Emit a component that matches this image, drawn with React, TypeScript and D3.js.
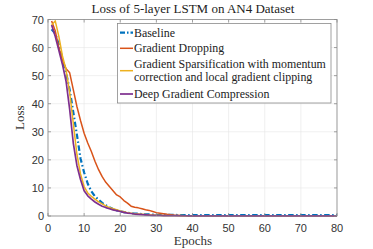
import React from "react";
import * as d3 from "d3";

const epochs: number[] = Array.from({ length: 80 }, (_, i) => i + 1);

const baseline: number[] = [
  66.5, 65, 61, 56, 51, 45, 37, 29, 20.5, 15.5,
  11.5, 8.8, 7.0, 5.8, 4.7, 3.8, 3.1, 2.5, 2.0, 1.7,
  1.4, 1.2, 1.0, 0.9, 0.8, 0.7, 0.6, 0.55, 0.5, 0.45,
  0.42, 0.4, 0.4, 0.38, 0.37, 0.36, 0.35, 0.35, 0.34, 0.34,
  0.33, 0.33, 0.33, 0.32, 0.32, 0.32, 0.32, 0.31, 0.31, 0.31,
  0.31, 0.3, 0.3, 0.3, 0.3, 0.3, 0.3, 0.3, 0.3, 0.3,
  0.3, 0.3, 0.3, 0.3, 0.3, 0.3, 0.3, 0.3, 0.3, 0.3,
  0.3, 0.3, 0.3, 0.3, 0.3, 0.3, 0.3, 0.3, 0.3, 0.3,
];

const gradientDropping: number[] = [
  69.5, 66, 60, 55.5, 52.5, 51, 45, 39, 34, 29.5,
  26, 23, 19.5, 16.5, 14, 12, 10.5, 9, 7.5, 6.8,
  5.5, 4.6, 3.5, 3.1, 2.9, 2.6, 2.2, 2.0, 1.6, 1.2,
  1.0, 0.8, 0.6, 0.45, 0.3, 0.2, 0.12, 0.08, 0.06, 0.05,
  0.05, 0.05, 0.05, 0.05, 0.05, 0.05, 0.05, 0.05, 0.05, 0.05,
  0.05, 0.05, 0.05, 0.05, 0.05, 0.05, 0.05, 0.05, 0.05, 0.05,
  0.05, 0.05, 0.05, 0.05, 0.05, 0.05, 0.05, 0.05, 0.05, 0.05,
  0.05, 0.05, 0.05, 0.05, 0.05, 0.05, 0.05, 0.05, 0.05, 0.05,
];

const gradientSparsification: number[] = [
  68, 69.5, 64, 57, 52, 44, 33, 22, 15, 10.5,
  8.2, 7.0, 6.0, 5.0, 4.3, 3.6, 3.0, 2.6, 2.2, 1.8,
  1.5, 1.2, 1.0, 0.8, 0.7, 0.6, 0.5, 0.4, 0.35, 0.3,
  0.25, 0.22, 0.2, 0.18, 0.16, 0.15, 0.14, 0.13, 0.12, 0.12,
  0.11, 0.11, 0.1, 0.1, 0.1, 0.1, 0.1, 0.1, 0.1, 0.1,
  0.1, 0.1, 0.1, 0.1, 0.1, 0.1, 0.1, 0.1, 0.1, 0.1,
  0.1, 0.1, 0.1, 0.1, 0.1, 0.1, 0.1, 0.1, 0.1, 0.1,
  0.1, 0.1, 0.1, 0.1, 0.1, 0.1, 0.1, 0.1, 0.1, 0.1,
];

const deepGradientCompression: number[] = [
  68, 64, 59, 54, 48, 38, 26, 18, 13, 9,
  7.2, 6.0, 5.0, 4.2, 3.5, 3.0, 2.6, 2.2, 1.9, 1.6,
  1.3, 1.0, 0.9, 0.7, 0.6, 0.5, 0.4, 0.3, 0.25, 0.2,
  0.18, 0.16, 0.14, 0.12, 0.1, 0.1, 0.09, 0.08, 0.08, 0.07,
  0.07, 0.07, 0.06, 0.06, 0.06, 0.06, 0.06, 0.06, 0.06, 0.06,
  0.06, 0.06, 0.06, 0.06, 0.06, 0.06, 0.06, 0.06, 0.06, 0.06,
  0.06, 0.06, 0.06, 0.06, 0.06, 0.06, 0.06, 0.06, 0.06, 0.06,
  0.06, 0.06, 0.06, 0.06, 0.06, 0.06, 0.06, 0.06, 0.06, 0.06,
];

const xTicks: number[] = [0, 10, 20, 30, 40, 50, 60, 70, 80];
const yTicks: number[] = [0, 10, 20, 30, 40, 50, 60, 70];

const seriesNames: string[][] = [
  ["Baseline"],
  ["Gradient Dropping"],
  ["Gradient Sparsification with momentum", "correction and local gradient clipping"],
  ["Deep Gradient Compression"],
];
const seriesColors: string[] = ["#0072BD", "#D95319", "#EDB120", "#7E2F8E"];
const seriesData: number[][] = [baseline, gradientDropping, gradientSparsification, deepGradientCompression];

const W = 373;
const H = 249;
const M = { left: 48, right: 337, top: 19.5, bottom: 216 };

export default function App() {
  const x = d3.scaleLinear().domain([0, 80]).range([M.left, M.right]);
  const y = d3.scaleLinear().domain([0, 70]).range([M.bottom, M.top]);
  const line = d3
    .line<number>()
    .x((_, i) => x(epochs[i]))
    .y((d) => y(d));

  const serif = "'Liberation Serif', 'Times New Roman', serif";
  const sans = "'Liberation Sans', Arial, sans-serif";
  const axisColor = "#333";

  const widths = [2.2, 1.5, 1.5, 1.7];
  const dashes = ["5.5,2.5,1.5,2.5", undefined, undefined, undefined];

  const lg = { x0: 117.5, y0: 23.5, x1: 331, y1: 103 };
  const legendRows = [32.7, 48.3, 70.7, 94];
  const legendTextRows = [[32.7], [48.3], [64, 77.3], [94]];

  return (
    <svg width={W} height={H} style={{ position: "absolute", left: 0, top: 0, background: "#fff" }}>
      <rect x={0} y={0} width={W} height={H} fill="#fff" />
      {xTicks.map((t) => (
        <line key={"gx" + t} x1={x(t)} x2={x(t)} y1={M.top} y2={M.bottom} stroke="#e6e6e6" strokeWidth={0.6} />
      ))}
      {yTicks.map((t) => (
        <line key={"gy" + t} x1={M.left} x2={M.right} y1={y(t)} y2={y(t)} stroke="#e6e6e6" strokeWidth={0.6} />
      ))}
      {seriesData.map((d, i) => (
        <path
          key={"s" + i}
          d={line(d) || ""}
          fill="none"
          stroke={seriesColors[i]}
          strokeWidth={widths[i]}
          strokeDasharray={dashes[i]}
          strokeLinejoin="round"
        />
      ))}
      <rect
        x={M.left}
        y={M.top}
        width={M.right - M.left}
        height={M.bottom - M.top}
        fill="none"
        stroke="#8a8a8a"
        strokeWidth={0.8}
      />
      {xTicks.map((t) => (
        <g key={"tx" + t}>
          <line x1={x(t)} x2={x(t)} y1={M.bottom} y2={M.bottom - 3} stroke="#8a8a8a" strokeWidth={0.8} />
          <line x1={x(t)} x2={x(t)} y1={M.top} y2={M.top + 3} stroke="#8a8a8a" strokeWidth={0.8} />
          <text x={x(t)} y={M.bottom + 16} textAnchor="middle" fontFamily={sans} fontSize={11} fill={axisColor}>
            {t}
          </text>
        </g>
      ))}
      {yTicks.map((t) => (
        <g key={"ty" + t}>
          <line x1={M.left} x2={M.left + 3} y1={y(t)} y2={y(t)} stroke="#8a8a8a" strokeWidth={0.8} />
          <line x1={M.right} x2={M.right - 3} y1={y(t)} y2={y(t)} stroke="#8a8a8a" strokeWidth={0.8} />
          <text x={M.left - 4} y={y(t) + 4} textAnchor="end" fontFamily={sans} fontSize={11} fill={axisColor}>
            {t}
          </text>
        </g>
      ))}
      <text x={193} y={13} textAnchor="middle" fontFamily={serif} fontSize={13} fill="#222">
        Loss of 5-layer LSTM on AN4 Dataset
      </text>
      <text x={193} y={245} textAnchor="middle" fontFamily={serif} fontSize={13} fill="#333">
        Epochs
      </text>
      <text
        transform={`translate(24,${(M.top + M.bottom) / 2}) rotate(-90)`}
        textAnchor="middle"
        fontFamily={serif}
        fontSize={13}
        fill="#333"
      >
        Loss
      </text>
      <rect x={lg.x0} y={lg.y0} width={lg.x1 - lg.x0} height={lg.y1 - lg.y0} fill="#fff" stroke="#8a8a8a" strokeWidth={0.8} />
      {seriesNames.map((names, i) => (
        <g key={"lg" + i}>
          <line
            x1={120}
            x2={133}
            y1={legendRows[i]}
            y2={legendRows[i]}
            stroke={seriesColors[i]}
            strokeWidth={widths[i]}
            strokeDasharray={i === 0 ? "5,2,1.5,2" : undefined}
          />
          {names.map((n, j) => (
            <text key={j} x={134} y={legendTextRows[i][j] + 4} fontFamily={serif} fontSize={11.9} fill="#222">
              {n}
            </text>
          ))}
        </g>
      ))}
    </svg>
  );
}
